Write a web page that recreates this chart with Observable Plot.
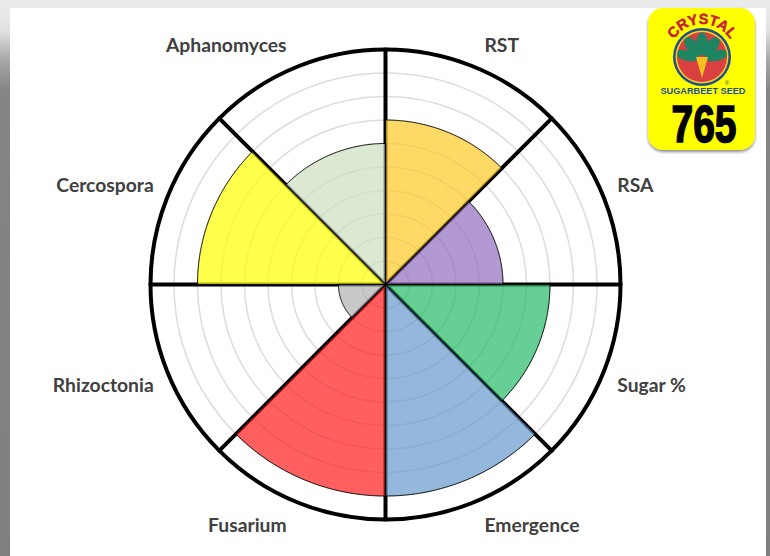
<!DOCTYPE html>
<html>
<head>
<meta charset="utf-8">
<script src="https://cdn.jsdelivr.net/npm/d3@7"></script>
<script src="https://cdn.jsdelivr.net/npm/@observablehq/plot@0.6"></script>
<style>
html,body{margin:0;padding:0;background:#fff;}
#stage{position:relative;width:770px;height:556px;overflow:hidden;background:#fff;}
#chart svg{display:block;position:absolute;left:0;top:0;background:transparent;}
.edge{position:absolute;background:linear-gradient(to bottom,#ececec 0,#e2e2e2 30px,#a8a8a8 60px,#858585 90px,#808080 100%);}
#logo{position:absolute;left:0;top:0;}
</style>
</head>
<body>
<div id="stage">
<div class="edge" style="left:0;top:0;width:10px;height:556px"></div>
<div class="edge" style="left:766px;top:0;width:4px;height:556px"></div>
<div style="position:absolute;left:0;top:0;width:770px;height:8px;background:#ebebeb"></div>
<div id="chart"></div>
<svg id="logo" width="770" height="556" xmlns="http://www.w3.org/2000/svg">
<defs>
<filter id="sh" x="-10%" y="-10%" width="120%" height="120%"><feDropShadow dx="0" dy="2" stdDeviation="1.5" flood-color="#000" flood-opacity="0.45"/></filter>
<path id="arc" d="M669 57 A33 33 0 0 1 735 57"/>
<clipPath id="inner"><circle cx="702" cy="57" r="25"/></clipPath>
</defs>
<rect x="648" y="8" width="107" height="142" rx="15" fill="#ffff00" filter="url(#sh)"/>
<circle cx="702" cy="57" r="29" fill="#1f4f8f"/>
<circle cx="702" cy="57" r="26.5" fill="#f4d21f"/>
<circle cx="702" cy="57" r="25" fill="#d9403f"/>
<g clip-path="url(#inner)" fill="#1e8461">
<ellipse cx="702" cy="44" rx="6" ry="11.5"/>
<ellipse cx="702" cy="44" rx="6" ry="11.5" transform="rotate(-36 702 60)"/>
<ellipse cx="702" cy="44" rx="6" ry="11.5" transform="rotate(36 702 60)"/>
<ellipse cx="702" cy="44" rx="5" ry="11.5" transform="rotate(-74 702 60)"/>
<ellipse cx="702" cy="44" rx="5" ry="11.5" transform="rotate(74 702 60)"/>
</g>
<polygon points="696,57 708,57 702,78" fill="#f4c020"/>
<text font-family="Liberation Sans" font-weight="700" font-size="14.5" fill="#c4213a" stroke="#c4213a" stroke-width="0.5"><textPath href="#arc" startOffset="50%" text-anchor="middle">CRYSTAL</textPath></text>
<text x="727" y="85" font-family="Liberation Sans" font-size="6" fill="#1f4f8f" text-anchor="middle">®</text>
<text x="703" y="94" font-family="Liberation Sans" font-weight="700" font-size="8.7" fill="#1f4f8f" text-anchor="middle" textLength="85" lengthAdjust="spacingAndGlyphs">SUGARBEET SEED</text>
<text transform="translate(704 142) scale(1 1.0625)" font-family="Liberation Sans" font-weight="700" font-size="48" fill="#000" stroke="#000" stroke-width="1.5" text-anchor="middle" textLength="65" lengthAdjust="spacingAndGlyphs">765</text>
</svg>
</div>
<script>
const traits = ["RST","RSA","Sugar %","Emergence","Fusarium","Rhizoctonia","Cercospora","Aphanomyces"];
const ratings = [7,5,7,9,9,2,8,6];
const colors = ["#ffc924","#916dbd","#24bb69","#679acd","#ff1b1b","#b1b1b1","#ffff00","#cce0c1"];
const levels = [1,2,3,4,5,6,7,8,9];
const maxRating = 10;

const pxPerUnit = 23.5, W = 770, H = 556, cx = 385, cy = 284;
const step = 360 / traits.length;
const pol = (r, deg) => {
  const a = deg * Math.PI / 180;
  return [r * Math.sin(a), r * Math.cos(a)];
};

// Wedge outlines: centre, arc, centre — radius is the rating.
const wedgePts = traits.flatMap((t, i) => {
  const arc = d3.range(0, 61).map(k => pol(ratings[i], i * step + k * step / 60));
  return [[0, 0], ...arc, [0, 0]].map(([x, y]) => ({t, x, y, color: colors[i]}));
});

// Straight edge of each wedge that darkens where it runs over a spoke.
const edgePts = traits.flatMap((t, i) =>
  [[0, 0], pol(ratings[i], (i + 1) * step)].map(([x, y]) => ({t, x, y})));

const spokes = d3.range(traits.length).flatMap(i =>
  [[0, 0], pol(maxRating, i * step)].map(([x, y]) => ({i, x, y})));

const labelR = 11;
const labels = traits.map((t, i) => {
  const [x, y] = pol(labelR, i * step + step / 2);
  return {t, x, y, side: x > 0 ? "start" : "end", wide: Math.abs(x) > Math.abs(y), lower: y < 0};
});
const labelStyle = {text: "t", x: "x", y: "y", fontFamily: "Lato", fontWeight: 700, fontSize: 19.3, fill: "#404040"};
const labelMark = (side, wide, lower) => Plot.text(
  labels.filter(d => d.side === side && d.wide === wide && d.lower === lower),
  {...labelStyle, textAnchor: side, dx: wide ? (side === "start" ? -7 : 7) : 0, dy: lower ? 2 : 0}
);

const plot = Plot.plot({
  width: W, height: H,
  margin: 0,
  x: {domain: [-cx / pxPerUnit, (W - cx) / pxPerUnit], range: [0, W], axis: null},
  y: {domain: [(H - cy) / -pxPerUnit, cy / pxPerUnit], range: [H, 0], axis: null},
  r: {type: "linear", domain: [0, maxRating], range: [0, maxRating * pxPerUnit]},
  style: {background: "transparent"},
  marks: [
    Plot.dot(levels, {x: () => 0, y: () => 0, r: d => d, stroke: "#dcdcdc", strokeWidth: 1.5, fill: "none"}),
    Plot.line(spokes, {x: "x", y: "y", z: "i", stroke: "#000", strokeWidth: 4}),
    Plot.line(wedgePts, {x: "x", y: "y", z: "t", fill: "color", fillOpacity: 0.7, stroke: "#000", strokeWidth: 1, strokeOpacity: 0.85}),
    Plot.line(edgePts, {x: "x", y: "y", z: "t", stroke: "#000", strokeWidth: 1.6, strokeOpacity: 0.7}),
    Plot.dot([maxRating], {x: () => 0, y: () => 0, r: d => d, stroke: "#000", strokeWidth: 4, fill: "none"}),
    labelMark("start", false, false),
    labelMark("end", false, false),
    labelMark("start", false, true),
    labelMark("end", false, true),
    labelMark("start", true, false),
    labelMark("end", true, false),
    labelMark("start", true, true),
    labelMark("end", true, true)
  ]
});
document.getElementById("chart").appendChild(plot);
</script>
</body>
</html>
